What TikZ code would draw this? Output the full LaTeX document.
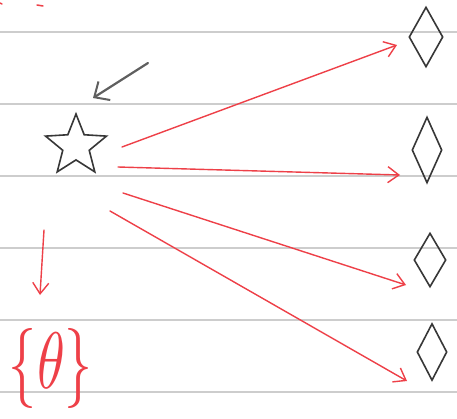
\documentclass[tikz,border=0pt]{standalone}
\usepackage{graphicx}
\usetikzlibrary{shapes.geometric,arrows.meta}
\definecolor{penred}{RGB}{238,64,72}
\definecolor{ruleg}{RGB}{205,205,205}
\definecolor{inkg}{RGB}{55,55,55}
\definecolor{pencilg}{RGB}{95,95,95}
\tikzset{
  rule/.style={ruleg,line width=2pt},
  redarrow/.style={penred,line width=1.4pt,line cap=round,-{Straight Barb[length=11pt,width=16pt,line width=1.4pt]}},
  gem/.style={diamond,draw=inkg,line width=1.6pt,inner sep=0pt,aspect=0.5},
  starshape/.style={star,star points=5,star point ratio=2.3,draw=inkg,line width=1.6pt,inner sep=0pt,minimum size=64pt},
}
\begin{document}
\begin{tikzpicture}[x=1pt,y=-1pt]
\useasboundingbox (0,0) rectangle (457,418);
\fill[white] (0,0) rectangle (457,418);
% ruled lines
\foreach \yy in {32,104,176,248,320,392} \draw[rule] (0,\yy) -- (457,\yy);
% cut-off red marks at top
\draw[penred,line width=1.5pt,line cap=round] (0,3) -- (2,4);
\draw[penred,line width=1.5pt,line cap=round] (37,5) -- (43,6);
% star
\node[starshape] (st) at (76,146) {};
% diamonds
\node[gem,minimum width=34pt,minimum height=60pt] (d1) at (426,37) {};
\node[gem,minimum width=30pt,minimum height=66pt] (d2) at (427,150) {};
\node[gem,minimum width=32pt,minimum height=54pt] (d3) at (430,260) {};
\node[gem,minimum width=30pt,minimum height=57pt] (d4) at (432,352) {};
% arrow ends
\coordinate (s1) at (122,147);
\coordinate (s2) at (118,167);
\coordinate (s3) at (123,193);
\coordinate (s4) at (110,211);
\coordinate (e1) at (397,45);
\coordinate (e2) at (400,175);
\coordinate (e3) at (406,285);
\coordinate (e4) at (407,381);
\draw[redarrow] (s1) -- (e1);
\draw[redarrow] (s2) -- (e2);
\draw[redarrow] (s3) -- (e3);
\draw[redarrow] (s4) -- (e4);
% grey pencil arrow
\coordinate (g0) at (148,63);
\coordinate (g1) at (93,98);
\draw[pencilg,line width=2.2pt,line cap=round,-{Straight Barb[length=12pt,width=22pt,line width=2pt]}] (g0) -- (g1);
% red down arrow
\coordinate (r0) at (44,230);
\coordinate (r1) at (40,295);
\draw[redarrow] (r0) -- (r1);
% theta set
\node[penred,inner sep=0pt] (th) at (51,368) {\resizebox*{84pt}{80pt}{\{$\theta$\}}};
\end{tikzpicture}
\end{document}
